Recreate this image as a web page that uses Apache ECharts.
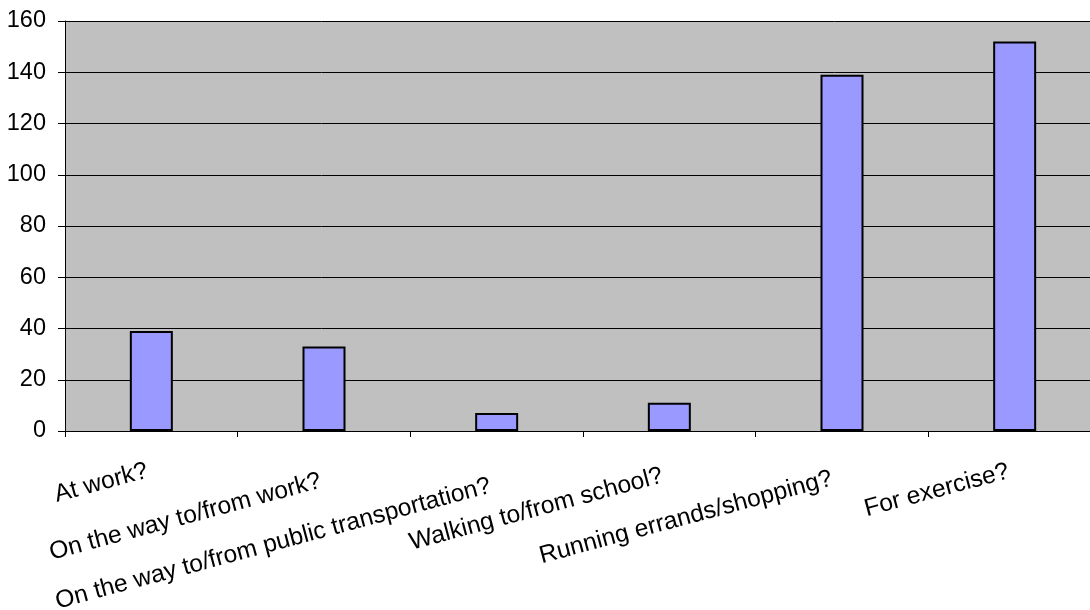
<!DOCTYPE html>
<html>
<head>
<meta charset="utf-8">
<script src="https://cdn.jsdelivr.net/npm/echarts@6/dist/echarts.min.js"></script>
<style>
  html, body { margin: 0; padding: 0; background: #fff; }
  #chart { width: 1090px; height: 610px; }
</style>
</head>
<body>
<div id="chart"></div>
<script>
const categories = [
  'At work?',
  'On the way to/from work?',
  'On the way to/from public transportation?',
  'Walking to/from school?',
  'Running errands/shopping?',
  'For exercise?'
]
const counts = [39, 33, 7, 11, 139, 152]

// staggered label offsets, like the original spreadsheet layout
const labelPadding = [
  [17, 12, 0, 0],
  [27, 14, 0, 0],
  [31, 18, 0, 0],
  [21, 16, 0, 0],
  [23, 20, 0, 0],
  [17, 14, 0, 0]
]

const labelFont = {
  fontFamily: 'Liberation Sans, Arial, sans-serif',
  fontSize: 24.6,
  color: '#000'
}

const chart = echarts.init(document.getElementById('chart'))

chart.setOption({
  animation: false,
  backgroundColor: '#fff',
  grid: {
    left: 65,
    top: 21,
    bottom: 179,
    width: 1036,
    show: true,
    backgroundColor: '#c0c0c0',
    borderWidth: 0,
    containLabel: false,
    outerBoundsMode: 'none'
  },
  xAxis: {
    type: 'category',
    data: categories.map((name, i) => ({
      value: name,
      textStyle: Object.assign({
        verticalAlign: 'top',
        align: 'right',
        padding: labelPadding[i]
      }, labelFont)
    })),
    axisLine: { lineStyle: { color: '#000', width: 1 } },
    axisTick: { show: true, length: 6, lineStyle: { color: '#000' } },
    axisLabel: Object.assign({
      interval: 0,
      rotate: 15,
      margin: 8,
      verticalAlign: 'top'
    }, labelFont)
  },
  yAxis: {
    type: 'value',
    min: 0,
    max: 160,
    interval: 20,
    axisLine: { show: true, lineStyle: { color: '#000', width: 1 } },
    axisTick: { show: true, length: 7, lineStyle: { color: '#000' } },
    axisLabel: {
      margin: 19,
      fontFamily: 'Liberation Sans, Arial, sans-serif',
      fontSize: 23.5,
      color: '#000'
    },
    splitLine: { show: true, lineStyle: { color: '#000', width: 1 } }
  },
  series: [{
    type: 'bar',
    data: counts,
    barWidth: 43,
    itemStyle: {
      color: '#9999ff',
      borderColor: '#000',
      borderWidth: 2
    }
  }]
})
</script>
</body>
</html>
